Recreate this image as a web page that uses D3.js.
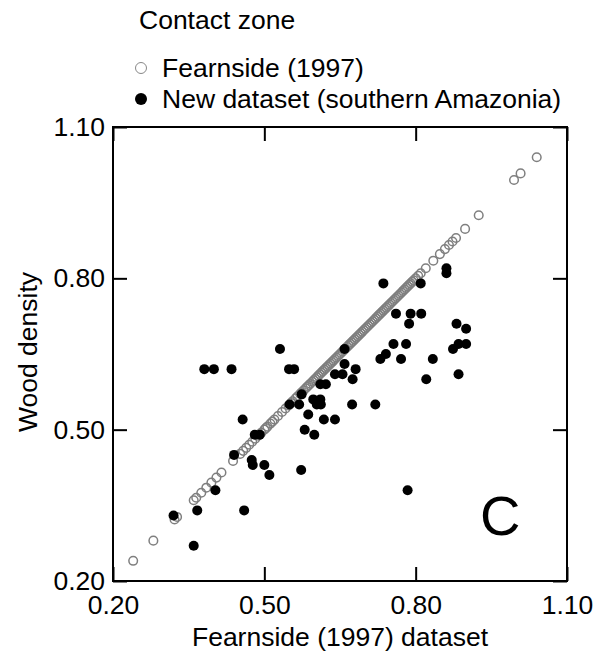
<!DOCTYPE html>
<html>
<head>
<meta charset="utf-8">
<script src="https://cdn.jsdelivr.net/npm/d3@7"></script>
<style>
  body { margin: 0; background: #fff; }
  text { font-family: "Liberation Sans", Arial, sans-serif; fill: #000; }
</style>
</head>
<body>
<div id="chart"></div>
<script>
// Fearnside (1997) values, plotted against themselves (1:1 line)
var fearnside = [0.24, 0.28, 0.322, 0.327, 0.36, 0.365, 0.375, 0.385, 0.395, 0.405, 0.415,
  0.438, 0.452, 0.458, 0.464, 0.47, 0.476, 0.482, 0.488, 0.494, 0.50, 0.503, 0.506, 0.512,
  0.516, 0.52, 0.527, 0.535, 0.542, 0.548, 0.553, 0.556, 0.562, 0.566, 0.571, 0.574, 0.578,
  0.582, 0.585, 0.588, 0.591, 0.595, 0.598, 0.601, 0.604, 0.607, 0.61, 0.613, 0.616, 0.619,
  0.622, 0.625, 0.628, 0.631, 0.634, 0.637, 0.64, 0.643, 0.646, 0.649, 0.652, 0.655, 0.658,
  0.661, 0.664, 0.667, 0.67, 0.673, 0.676, 0.679, 0.682, 0.685, 0.688, 0.691, 0.694, 0.697,
  0.70, 0.703, 0.706, 0.709, 0.712, 0.715, 0.718, 0.721, 0.724, 0.727, 0.73, 0.733, 0.736,
  0.739, 0.742, 0.745, 0.748, 0.751, 0.754, 0.757, 0.76, 0.763, 0.766, 0.769, 0.772, 0.775,
  0.778, 0.781, 0.784, 0.787, 0.79, 0.793, 0.796, 0.80, 0.805, 0.81, 0.82, 0.835, 0.848,
  0.858, 0.866, 0.873, 0.88, 0.898, 0.925, 0.995, 1.008, 1.04];

// new dataset (southern Amazonia): x = Fearnside value, y = new value
var newX = [0.32, 0.36, 0.367, 0.381, 0.40, 0.403, 0.435, 0.44, 0.457, 0.46, 0.475, 0.477,
  0.481, 0.491, 0.50, 0.51, 0.531, 0.549, 0.559, 0.55, 0.569, 0.574, 0.573, 0.58, 0.587,
  0.597, 0.599, 0.604, 0.611, 0.612, 0.611, 0.622, 0.618, 0.64, 0.64, 0.655, 0.659, 0.659,
  0.675, 0.674, 0.681, 0.72, 0.73, 0.741, 0.736, 0.756, 0.761, 0.771, 0.781, 0.784, 0.787,
  0.79, 0.81, 0.811, 0.821, 0.834, 0.861, 0.861, 0.874, 0.881, 0.885, 0.885, 0.90, 0.90];
var newY = [0.33, 0.27, 0.34, 0.62, 0.62, 0.38, 0.62, 0.45, 0.52, 0.34, 0.44, 0.43,
  0.49, 0.49, 0.43, 0.41, 0.66, 0.62, 0.62, 0.55, 0.55, 0.57, 0.42, 0.50, 0.53,
  0.56, 0.49, 0.55, 0.56, 0.55, 0.59, 0.59, 0.52, 0.61, 0.52, 0.61, 0.66, 0.63,
  0.60, 0.55, 0.62, 0.55, 0.64, 0.65, 0.79, 0.67, 0.73, 0.64, 0.67, 0.38, 0.71,
  0.73, 0.79, 0.73, 0.60, 0.64, 0.82, 0.81, 0.66, 0.71, 0.67, 0.61, 0.70, 0.67];

var ticks = [0.20, 0.50, 0.80, 1.10];
var legendLabels = ["Fearnside (1997)", "New dataset (southern Amazonia)"];

var margin = {top: 127, right: 29, bottom: 80, left: 113},
    width = 596 - margin.left - margin.right,
    height = 661 - margin.top - margin.bottom;

var svgRoot = d3.select("#chart")
  .append("svg")
    .attr("width", 596)
    .attr("height", 661);

var svg = svgRoot.append("g")
    .attr("transform", "translate(" + margin.left + "," + margin.top + ")");

var x = d3.scaleLinear().domain([0.2, 1.1]).range([0, width]);
var y = d3.scaleLinear().domain([0.2, 1.1]).range([height, 0]);
var fmt = d3.format(".2f");

// axes, ticks pointing inward on all four sides
svg.append("g")
  .attr("transform", "translate(0," + height + ")")
  .call(d3.axisBottom(x).tickValues(ticks).tickFormat(fmt).tickSizeInner(-14).tickSizeOuter(0).tickPadding(14))
  .call(function(g) { g.select(".domain").remove(); });
svg.append("g")
  .call(d3.axisLeft(y).tickValues(ticks).tickFormat(fmt).tickSizeInner(-14).tickSizeOuter(0).tickPadding(8))
  .call(function(g) { g.select(".domain").remove(); });
svg.append("g")
  .call(d3.axisTop(x).tickValues(ticks).tickFormat("").tickSizeInner(-14).tickSizeOuter(0))
  .call(function(g) { g.select(".domain").remove(); });
svg.append("g")
  .attr("transform", "translate(" + width + ",0)")
  .call(d3.axisRight(y).tickValues(ticks).tickFormat("").tickSizeInner(-14).tickSizeOuter(0))
  .call(function(g) { g.select(".domain").remove(); });

svg.selectAll(".tick line").attr("stroke", "#000").attr("stroke-width", 2);
svg.selectAll(".tick text").style("font-size", "26.5px").style("font-family", "'Liberation Sans', Arial, sans-serif");

svg.append("rect")
  .attr("width", width)
  .attr("height", height)
  .attr("fill", "none")
  .attr("stroke", "#000")
  .attr("stroke-width", 2);

// open grey circles
svg.selectAll(".fearn")
  .data(fearnside)
  .enter()
  .append("circle")
    .attr("cx", function(d) { return x(d); })
    .attr("cy", function(d) { return y(d); })
    .attr("r", 4.3)
    .attr("fill", "none")
    .attr("stroke", "#7f7f7f")
    .attr("stroke-width", 1.5);

// black points
svg.selectAll(".newd")
  .data(newX)
  .enter()
  .append("circle")
    .attr("cx", function(d) { return x(d); })
    .attr("cy", function(d, i) { return y(newY[i]); })
    .attr("r", 5)
    .attr("fill", "#000");

svg.append("text")
  .attr("x", 367)
  .attr("y", 408)
  .style("font-size", "56px")
  .text("C");

// axis titles
svgRoot.append("text")
  .attr("x", 340)
  .attr("y", 646)
  .attr("text-anchor", "middle")
  .style("font-size", "26.5px")
  .text("Fearnside (1997) dataset");

svgRoot.append("text")
  .attr("transform", "translate(37,352) rotate(-90)")
  .attr("text-anchor", "middle")
  .style("font-size", "26.5px")
  .text("Wood density");

// legend
svgRoot.append("text")
  .attr("x", 139)
  .attr("y", 29)
  .style("font-size", "26.5px")
  .text("Contact zone");

var legend = svgRoot.selectAll(".leg")
  .data(legendLabels)
  .enter()
  .append("g")
    .attr("transform", function(d, i) { return "translate(141," + (68 + i * 31) + ")"; });

legend.append("circle")
  .attr("r", function(d, i) { return i === 0 ? 5.5 : 6; })
  .attr("fill", function(d, i) { return i === 0 ? "#fff" : "#000"; })
  .attr("stroke", function(d, i) { return i === 0 ? "#888" : "#000"; })
  .attr("stroke-width", function(d, i) { return i === 0 ? 1 : 0; });

legend.append("text")
  .attr("x", 21)
  .attr("y", 9)
  .style("font-size", "26.5px")
  .text(function(d) { return d; });
</script>
</body>
</html>
